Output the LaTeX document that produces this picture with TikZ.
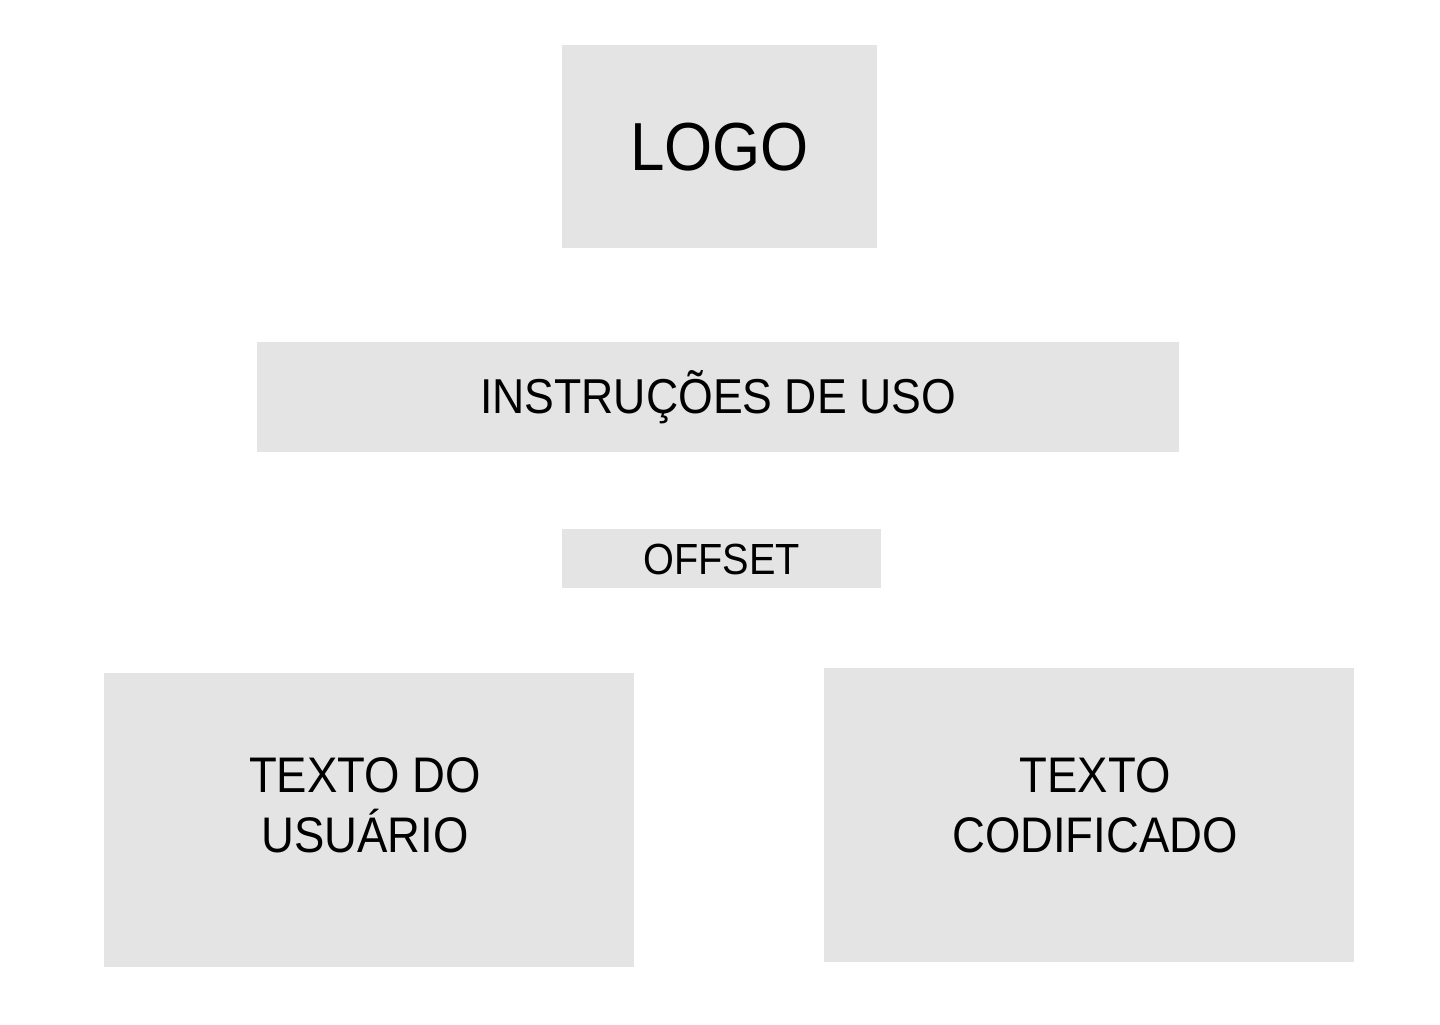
\documentclass[tikz,border=0pt]{standalone}
\usepackage{fontspec}
\setmainfont{Liberation Sans}[FakeStretch=0.91]
\usetikzlibrary{positioning}
\definecolor{boxgray}{HTML}{E4E4E4}

\begin{document}
\begin{tikzpicture}[
        x=0.5pt, y=-0.5pt,
        block/.style={rectangle, fill=boxgray, inner sep=0pt, align=center},
        caps/.style={text height=#1, text depth=0pt}
    ]

    % Page
    \fill[white] (0,0) rectangle (1440,1024);
    \useasboundingbox (0,0) rectangle (1440,1024);

    % Blocks (sizes in pt, half of the pixel sizes)
    \node[block, caps=24.3pt, minimum width=157.5pt, minimum height=101.5pt, font=\fontsize{34}{40}\selectfont] (logo) at (719.5,146.5) {LOGO};
    \node[block, caps=16pt, minimum width=461pt, minimum height=55pt, font=\fontsize{24.5}{30}\selectfont] (instrucoes) at (718,397) {INSTRUÇÕES DE USO};
    \node[block, caps=15.6pt, minimum width=159.5pt, minimum height=29.5pt, font=\fontsize{21.8}{26}\selectfont] (offset) at (721.5,558.5) {OFFSET};
    \node[block, minimum width=265pt, minimum height=147pt] (usuario) at (369,820) {};
    \node[block, minimum width=265pt, minimum height=147pt] (codificado) at (1089,815) {};

    % Texts of the lower blocks
    \node[anchor=north, inner sep=0pt, align=center, font=\fontsize{25}{30}\selectfont] (usuariotxt) at (365,757) {TEXTO DO\\USUÁRIO};
    \node[anchor=north, inner sep=0pt, align=center, font=\fontsize{25}{30}\selectfont] (codificadotxt) at (1095,757) {TEXTO\\CODIFICADO};

\end{tikzpicture}
\end{document}
